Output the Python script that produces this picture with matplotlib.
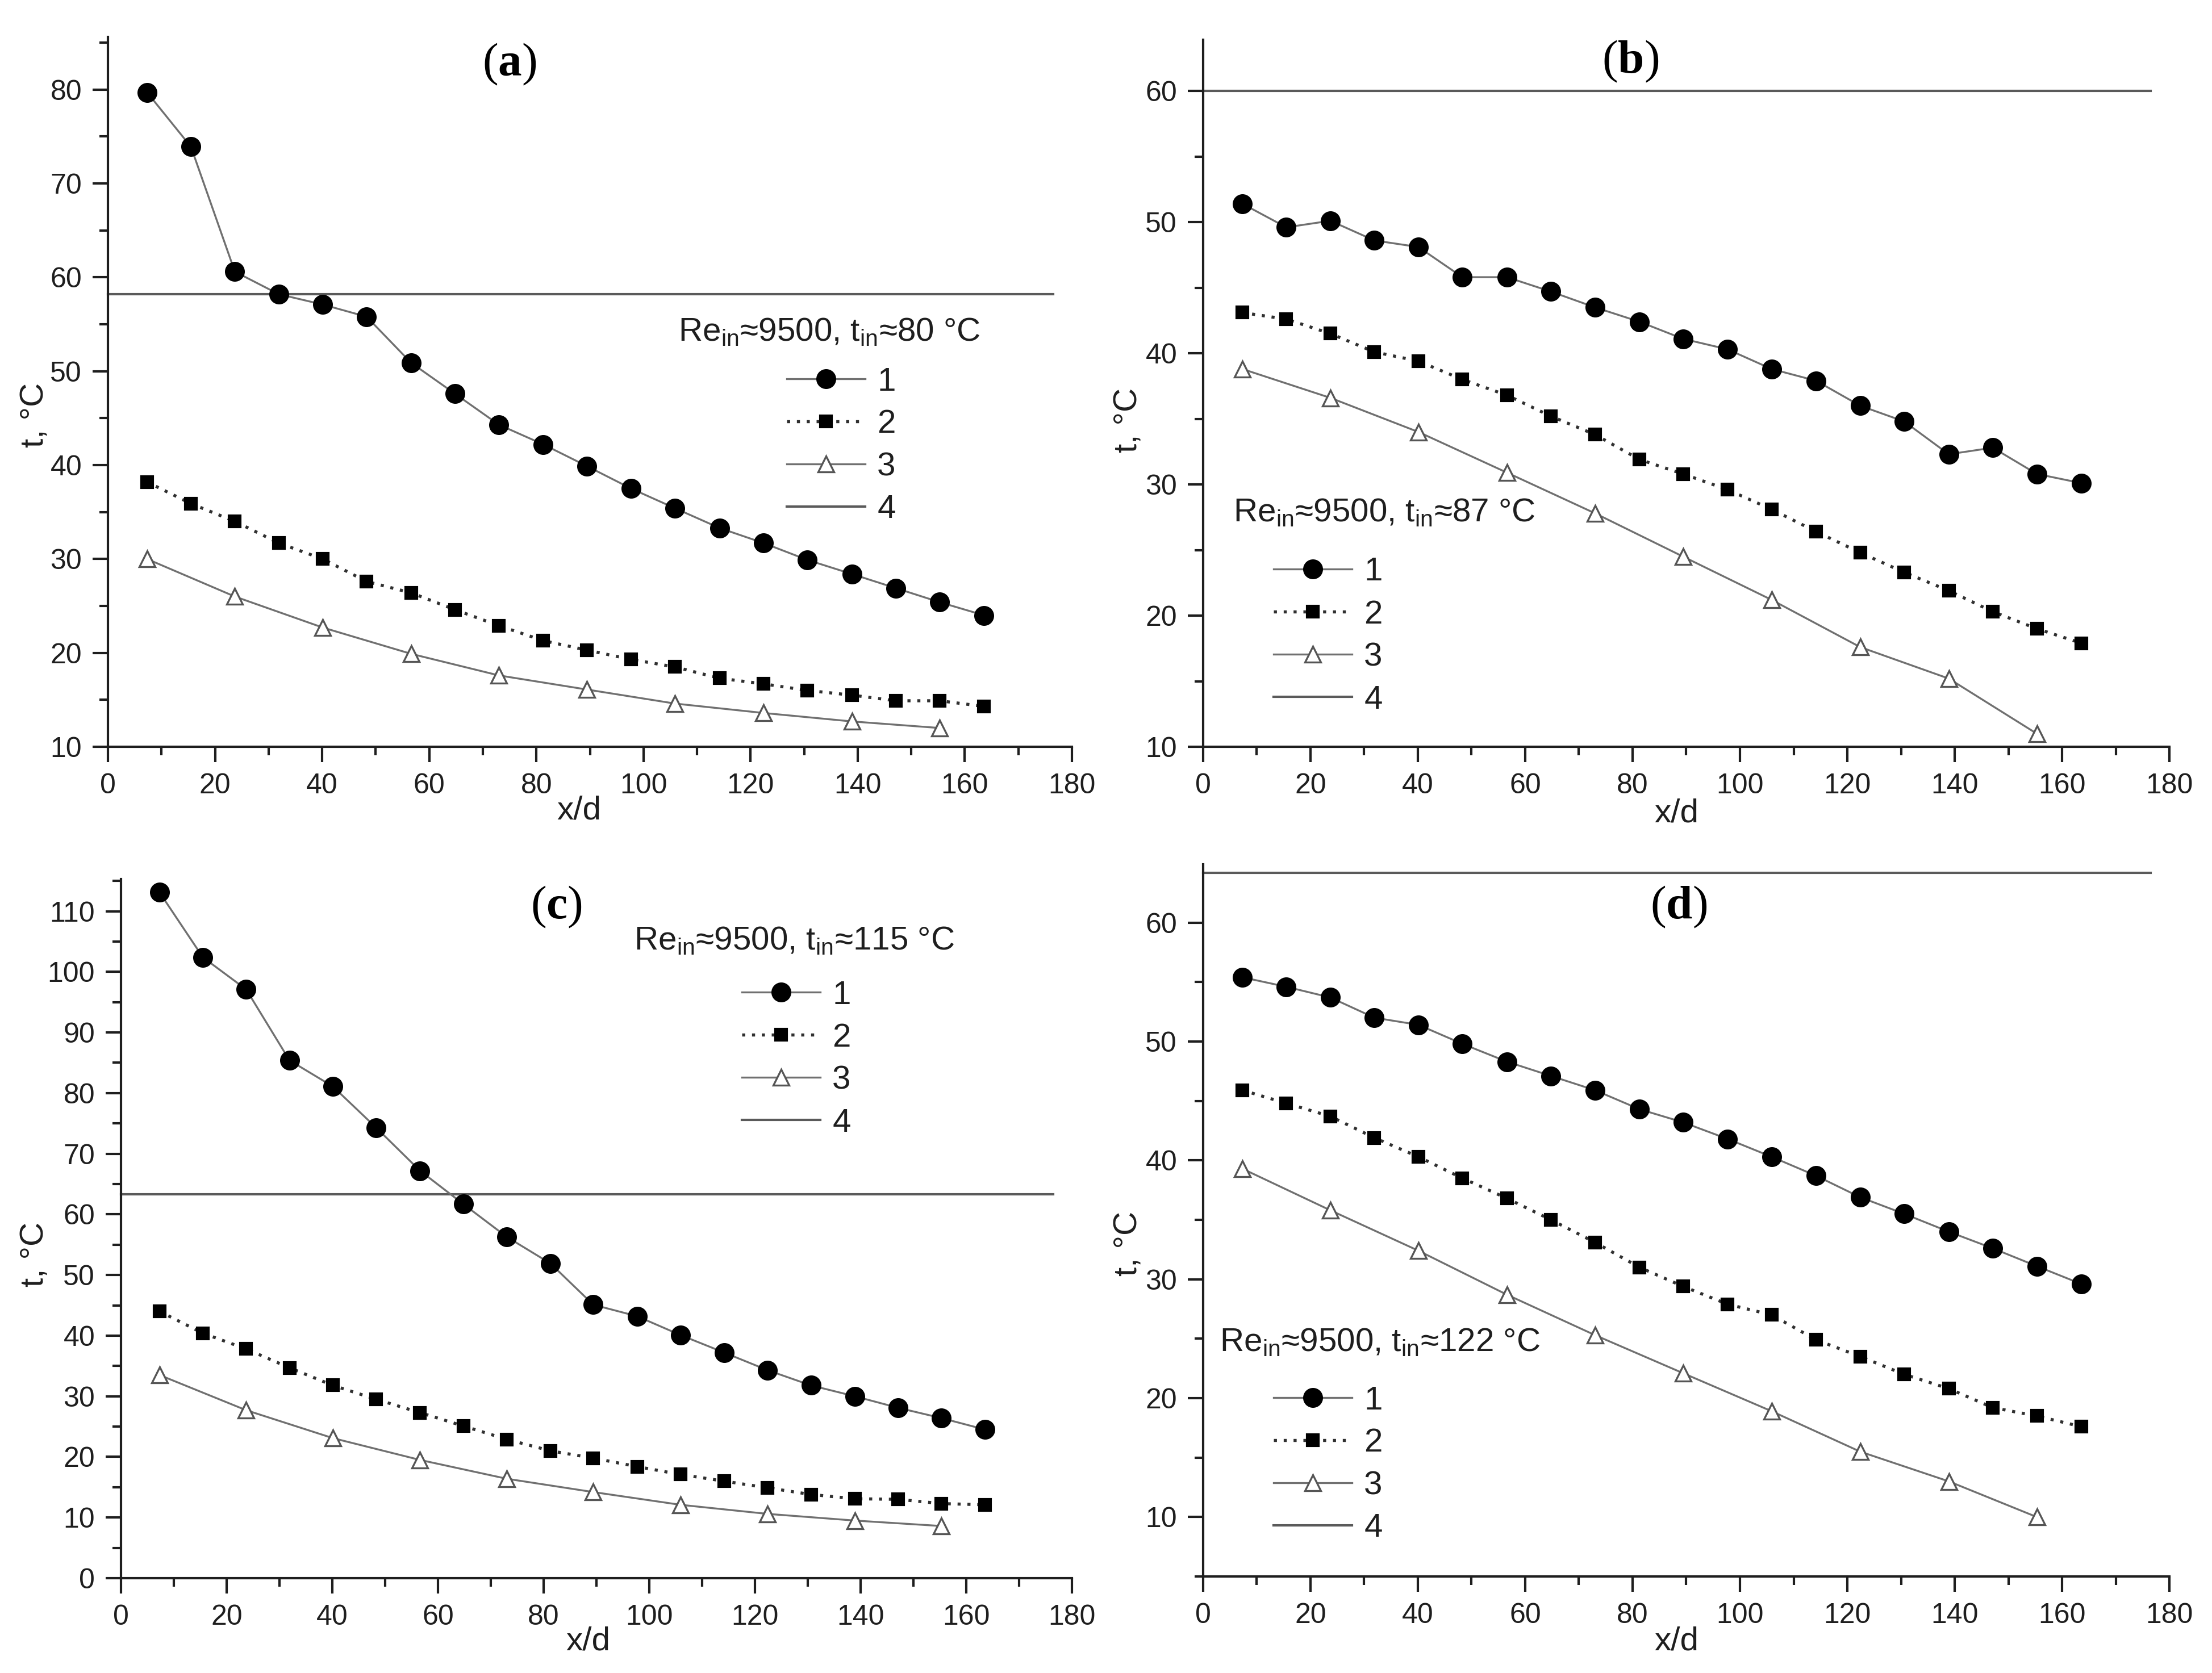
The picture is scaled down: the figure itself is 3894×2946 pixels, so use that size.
import matplotlib
matplotlib.use('Agg')
import matplotlib.pyplot as plt
from matplotlib.ticker import MultipleLocator

plt.rcParams['font.family'] = ['Liberation Sans', 'DejaVu Sans']
plt.rcParams['mathtext.fontset'] = 'custom'
plt.rcParams['mathtext.rm'] = 'Liberation Serif'
plt.rcParams['mathtext.bf'] = 'Liberation Serif:bold'

# ---------------- data ----------------
x_all = [7.3, 15.5, 23.7, 31.9, 40.1, 48.3, 56.6, 64.8, 73.0, 81.3,
         89.4, 97.7, 105.9, 114.2, 122.4, 130.6, 138.9, 147.1, 155.3, 163.6]
x_half = [7.3, 23.7, 40.1, 56.6, 73.0, 89.4, 105.9, 122.4, 138.9, 155.3]
line4_x = [0, 176.5]

a1 = [79.7, 73.9, 60.6, 58.2, 57.1, 55.8, 50.9, 47.6, 44.3, 42.2,
      39.9, 37.5, 35.4, 33.3, 31.7, 29.9, 28.4, 26.9, 25.4, 24.0]
a2 = [38.2, 35.9, 34.0, 31.7, 30.0, 27.6, 26.4, 24.6, 22.9, 21.3,
      20.3, 19.3, 18.5, 17.3, 16.7, 16.0, 15.5, 14.9, 14.9, 14.3]
a3 = [30.0, 26.0, 22.7, 19.9, 17.6, 16.1, 14.6, 13.6, 12.7, 12.0]
a4 = 58.2

b1 = [51.4, 49.6, 50.1, 48.6, 48.1, 45.8, 45.8, 44.7, 43.5, 42.4,
      41.1, 40.3, 38.8, 37.9, 36.0, 34.8, 32.3, 32.8, 30.8, 30.1]
b2 = [43.1, 42.6, 41.5, 40.1, 39.4, 38.0, 36.8, 35.2, 33.8, 31.9,
      30.8, 29.6, 28.1, 26.4, 24.8, 23.3, 21.9, 20.3, 19.0, 17.9]
b3 = [38.8, 36.6, 34.0, 30.9, 27.8, 24.5, 21.2, 17.6, 15.2, 11.0]
b4 = 60.0

c1 = [113.1, 102.4, 97.1, 85.4, 81.1, 74.3, 67.2, 61.7, 56.3, 51.9,
      45.1, 43.2, 40.1, 37.2, 34.3, 31.8, 30.0, 28.1, 26.4, 24.5]
c2 = [44.0, 40.4, 37.8, 34.7, 31.8, 29.5, 27.3, 25.1, 22.9, 21.0,
      19.8, 18.4, 17.1, 16.0, 14.9, 13.8, 13.1, 13.0, 12.3, 12.1]
c3 = [33.5, 27.7, 23.1, 19.5, 16.4, 14.2, 12.1, 10.6, 9.5, 8.6]
c4 = 63.3

d1 = [55.4, 54.6, 53.7, 52.0, 51.4, 49.8, 48.3, 47.1, 45.9, 44.3,
      43.2, 41.8, 40.3, 38.7, 36.9, 35.5, 34.0, 32.6, 31.1, 29.6]
d2 = [45.9, 44.8, 43.7, 41.9, 40.3, 38.5, 36.8, 35.0, 33.1, 31.0,
      29.4, 27.9, 27.0, 24.9, 23.5, 22.0, 20.8, 19.2, 18.5, 17.6]
d3 = [39.3, 35.8, 32.4, 28.7, 25.3, 22.1, 18.9, 15.5, 13.0, 10.0]
d4 = 64.2

t_in = ['80', '87', '115', '122']
panel_letters = ['a', 'b', 'c', 'd']
legend_labels = ['1', '2', '3', '4']
x_label = 'x/d'
y_label = 't, °C'

# ---------------- layout (pixels of the 3895x2946 canvas) ----------------
W, H = 3895, 2946
DPI = 300
fig = plt.figure(figsize=(W / DPI, H / DPI), dpi=DPI)

def fx(px):
    return px / W

def fy(py):
    return 1 - py / H

layouts = [
    dict(box=(190, 65, 1887, 1315), ylim=(10, 85.6), ymaj=10,
         title=(1194, 600), handle_x=1385, ent_mid=785,
         letter=(897, 113), ylab=(62, 731), xlab=(1019, 1428)),
    dict(box=(2118, 70, 3819, 1315), ylim=(10, 63.9), ymaj=10,
         title=(2171, 918), handle_x=2242, ent_mid=1120,
         letter=(2870, 108), ylab=(1987, 740), xlab=(2951, 1432)),
    dict(box=(213, 1548, 1887, 2779), ylim=(0, 115.3), ymaj=10,
         title=(1116, 1672), handle_x=1306, ent_mid=1865,
         letter=(979, 1597), ylab=(62, 2209), xlab=(1035, 2890)),
    dict(box=(2118, 1522, 3819, 2776), ylim=(5, 64.9), ymaj=10,
         title=(2147, 2379), handle_x=2242, ent_mid=2579,
         letter=(2955, 1597), ylab=(1987, 2190), xlab=(2951, 2890)),
]

series = [(a1, a2, a3, a4), (b1, b2, b3, b4), (c1, c2, c3, c4), (d1, d2, d3, d4)]

txt_col = '#1e1e1e'
line_gray = '#707070'

for i, (lay, (s1, s2, s3, s4)) in enumerate(zip(layouts, series)):
    l, t, r, b = lay['box']
    ax = fig.add_axes([fx(l), fy(b), (r - l) / W, (b - t) / H])
    ax.set_xlim(0, 180)
    ax.set_ylim(*lay['ylim'])

    h1, = ax.plot(x_all, s1, '-', color=line_gray, lw=0.8, marker='o', ms=7.4,
                  mfc='black', mec='black', clip_on=False, zorder=3)
    h2, = ax.plot(x_all, s2, color='#303030', lw=1.3, ls=(0, (1, 2.2)),
                  marker='s', ms=4.6, mfc='black', mec='black',
                  clip_on=False, zorder=3)
    h3, = ax.plot(x_half, s3, '-', color=line_gray, lw=0.8, marker='^', ms=6.5,
                  mfc='white', mec='#555555', mew=0.8, clip_on=False, zorder=3)
    h4, = ax.plot(line4_x, [s4, s4], '-', color='#5a5a5a', lw=1.0,
                  clip_on=False, zorder=2)

    for side in ('top', 'right'):
        ax.spines[side].set_visible(False)
    for side in ('left', 'bottom'):
        ax.spines[side].set_linewidth(1.0)
        ax.spines[side].set_color(txt_col)

    ax.xaxis.set_major_locator(MultipleLocator(20))
    ax.xaxis.set_minor_locator(MultipleLocator(10))
    ax.yaxis.set_major_locator(MultipleLocator(lay['ymaj']))
    ax.yaxis.set_minor_locator(MultipleLocator(5))
    ax.tick_params(which='major', direction='out', length=6.5, width=1.0,
                   color=txt_col, labelcolor=txt_col, labelsize=12, pad=4.5)
    ax.tick_params(which='minor', direction='out', length=3.5, width=1.0,
                   color=txt_col)

    ax.set_xlabel(x_label, fontsize=14, color=txt_col, va='center')
    ax.xaxis.set_label_coords(fx(lay['xlab'][0]), fy(lay['xlab'][1]),
                              transform=fig.transFigure)
    ax.set_ylabel(y_label, fontsize=14, color=txt_col, va='center')
    ax.yaxis.set_label_coords(fx(lay['ylab'][0]), fy(lay['ylab'][1]),
                              transform=fig.transFigure)

    # legend title
    title = (r'Re$_{\mathregular{in}}$≈9500, t$_{\mathregular{in}}$≈'
             + t_in[i] + ' °C')
    fig.text(fx(lay['title'][0]), fy(lay['title'][1]), title, fontsize=14,
             color=txt_col, ha='left', va='baseline')

    ax.legend([h1, h2, h3, h4], legend_labels, loc='center left',
              bbox_to_anchor=(fx(lay['handle_x']), fy(lay['ent_mid'])),
              bbox_transform=fig.transFigure, frameon=False, fontsize=14,
              borderpad=0, borderaxespad=0, handlelength=2.37,
              handletextpad=0.36, labelspacing=0.36, labelcolor=txt_col)

    fig.text(fx(lay['letter'][0]), fy(lay['letter'][1]),
             r'($\mathbf{' + panel_letters[i] + r'}$)',
             family='Liberation Serif', fontsize=20, color='black',
             ha='center', va='center')

fig.savefig('out.png', dpi=DPI, facecolor='white')
